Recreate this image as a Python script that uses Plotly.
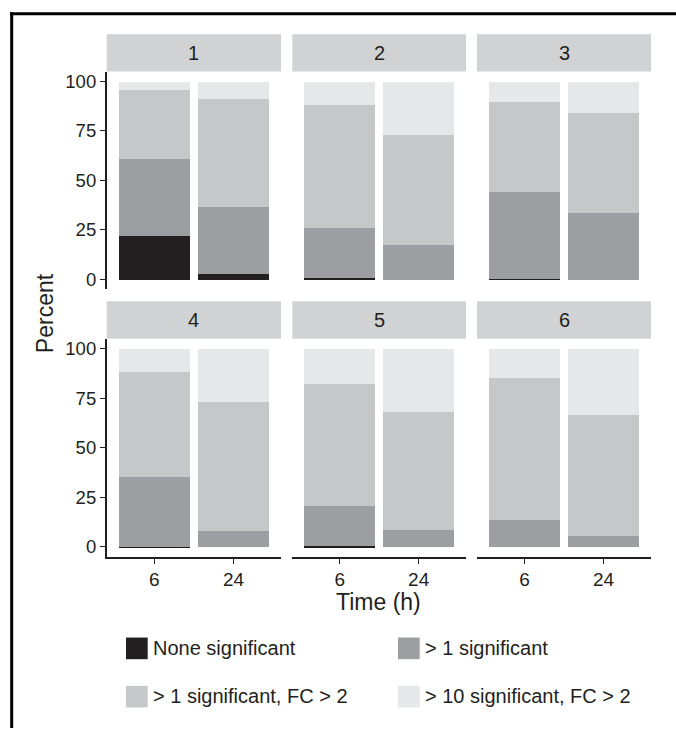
import plotly.graph_objects as go

# ---------------- data ----------------
facets = ["1", "2", "3", "4", "5", "6"]
times = ["6", "24"]
series_names = ["None significant", "> 1 significant",
                "> 1 significant, FC > 2", "> 10 significant, FC > 2"]
series_colors = ["#231f20", "#9d9ea1", "#c6c7c9", "#e6e7e9"]

none_sig = [[22.3, 3.2], [1.2, 0.0], [0.3, 0.0], [0.3, 0.0], [0.8, 0.0], [0.0, 0.0]]
sig1 = [[38.9, 33.8], [25.2, 17.8], [44.2, 33.9], [35.3, 7.9], [19.7, 8.6], [13.9, 5.4]]
sig1_fc2 = [[34.8, 54.4], [62.0, 55.5], [45.4, 50.5], [53.0, 65.5], [62.0, 59.8], [71.6, 61.5]]
sig10_fc2 = [[4.0, 8.6], [11.6, 26.7], [10.1, 15.6], [11.4, 26.6], [17.5, 31.6], [14.5, 33.1]]
series_values = [none_sig, sig1, sig1_fc2, sig10_fc2]

y_ticks = [0, 25, 50, 75, 100]

# ---------------- layout geometry (pixels) ----------------
W, H = 676, 729
FONT = "Liberation Sans, Arial, Helvetica, sans-serif"
INK = "#231f20"
STRIP = "#d1d2d4"


def fx(x):
    return x / W


def fy(y):
    return 1 - y / H


col_px = [(106.7, 281.0), (292.3, 466.0), (477.0, 651.0)]
row_px = [(70.7, 289.2), (338.7, 557.3)]
strip_px = [(33.3, 70.7), (301.0, 338.7)]

fig = go.Figure()

for s, (name, color, vals) in enumerate(zip(series_names, series_colors, series_values)):
    for i, f in enumerate(facets):
        k = i + 1
        fig.add_trace(go.Bar(
            x=times, y=vals[i], name=name, marker=dict(color=color, line=dict(width=0)),
            width=0.9, showlegend=False,
            xaxis="x" if k == 1 else f"x{k}", yaxis="y" if k == 1 else f"y{k}",
            hovertemplate=f"{name}<br>Facet {f}<br>%{{x}} h: %{{y}}%<extra></extra>",
        ))

layout = dict(
    width=W, height=H, margin=dict(l=0, r=0, t=0, b=0),
    paper_bgcolor="white", plot_bgcolor="white",
    barmode="stack", bargap=0,
    font=dict(family=FONT, color=INK, size=15),
    showlegend=False,
)

shapes = []
annotations = []
for i, f in enumerate(facets):
    k = i + 1
    r, c = divmod(i, 3)
    x0, x1 = col_px[c]
    y0, y1 = row_px[r]
    bottom = (r == 1)
    left = (c == 0)
    layout["xaxis" if k == 1 else f"xaxis{k}"] = dict(
        domain=[fx(x0), fx(x1)], anchor="y" if k == 1 else f"y{k}",
        type="category", categoryorder="array", categoryarray=times,
        range=[-0.6, 1.6], showgrid=False, zeroline=False,
        showline=bottom, linecolor=INK, linewidth=1.6,
        ticks="outside" if bottom else "", ticklen=5, tickwidth=1.4, tickcolor=INK,
        showticklabels=bottom, tickfont=dict(size=19, color=INK, family=FONT),
        fixedrange=True,
    )
    layout["yaxis" if k == 1 else f"yaxis{k}"] = dict(
        domain=[fy(y1), fy(y0)], anchor="x" if k == 1 else f"x{k}",
        range=[-5, 105], tickvals=y_ticks, showgrid=False, zeroline=False,
        showline=left, linecolor=INK, linewidth=1.6,
        ticks="outside" if left else "", ticklen=5, tickwidth=1.4, tickcolor=INK,
        showticklabels=left, tickfont=dict(size=18.5, color=INK, family=FONT),
        fixedrange=True,
    )
    sy0, sy1 = strip_px[r]
    shapes.append(dict(type="rect", xref="paper", yref="paper",
                       x0=fx(x0), x1=fx(x1), y0=fy(sy1), y1=fy(sy0),
                       fillcolor=STRIP, line=dict(width=0), layer="below"))
    annotations.append(dict(text=f, xref="paper", yref="paper",
                            x=fx((x0 + x1) / 2), y=fy((sy0 + sy1) / 2),
                            xanchor="center", yanchor="middle", showarrow=False,
                            font=dict(size=20, color=INK, family=FONT)))

# frame (top and left edges of the cropped figure border)
shapes.append(dict(type="line", xref="paper", yref="paper",
                   x0=fx(10), x1=1, y0=fy(12.7), y1=fy(12.7),
                   line=dict(color="black", width=3)))
shapes.append(dict(type="line", xref="paper", yref="paper",
                   x0=fx(11.7), x1=fx(11.7), y0=fy(11.2), y1=0,
                   line=dict(color="black", width=3)))

# axis titles
annotations.append(dict(text="Percent", xref="paper", yref="paper",
                        x=fx(45), y=fy(313), textangle=-90,
                        xanchor="center", yanchor="middle", showarrow=False,
                        font=dict(size=23, color=INK, family=FONT)))
annotations.append(dict(text="Time (h)", xref="paper", yref="paper",
                        x=fx(378.9), y=fy(602.5),
                        xanchor="center", yanchor="middle", showarrow=False,
                        font=dict(size=23, color=INK, family=FONT)))

# legend (2 x 2 grid)
key_x = [126.0, 398.0]
key_y = [638.3, 686.7]
KEY = 21.7
for s, (name, color) in enumerate(zip(series_names, series_colors)):
    r, c = divmod(s, 2)
    kx, ky = key_x[c], key_y[r]
    shapes.append(dict(type="rect", xref="paper", yref="paper",
                       x0=fx(kx), x1=fx(kx + KEY), y0=fy(ky + KEY), y1=fy(ky),
                       fillcolor=color, line=dict(width=0)))
    annotations.append(dict(text=name, xref="paper", yref="paper",
                            x=fx(kx + KEY + 3.0), y=fy(ky + KEY / 2 - 0.5),
                            xanchor="left", yanchor="middle", showarrow=False,
                            font=dict(size=20, color=INK, family=FONT)))

layout["shapes"] = shapes
layout["annotations"] = annotations
fig.update_layout(**layout)

fig.write_html("out.html")
